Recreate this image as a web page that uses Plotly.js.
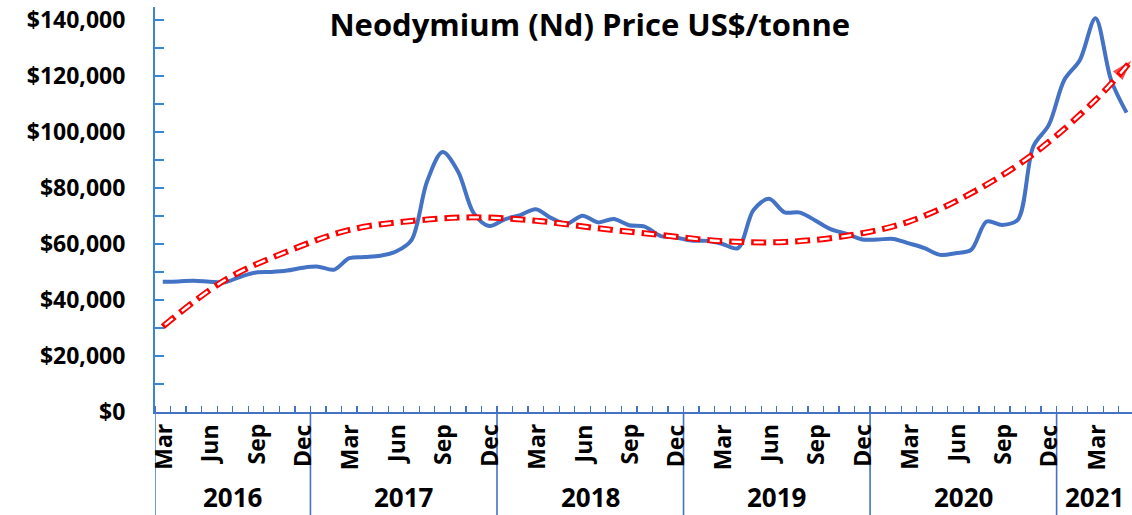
<!DOCTYPE html>
<html><head><meta charset="utf-8">
<script src="https://cdn.plot.ly/plotly-3.0.1.min.js"></script>
<style>html,body{margin:0;padding:0;background:#fff;}#chart{width:1132px;height:515px;}</style>
</head><body><div id="chart"></div>
<script>
// Monthly categories: Mar 2016 .. May 2021
const monthNames = ['Jan','Feb','Mar','Apr','May','Jun','Jul','Aug','Sep','Oct','Nov','Dec'];
const years = ['2016','2017','2018','2019','2020','2021'];
const startMonth = 2;   // Mar
const startYear = 2016;

// Neodymium price, US$/tonne (one value per month)
const price = [
  46500, 46600, 46900, 46500, 46300, 48300, 49800, 50000, 50500, 51500,
  51900, 50800, 54900, 55300, 55800, 57300, 61400, 82300, 92800, 85800,
  71000, 66400, 68800, 70300, 72400, 69200, 67200, 70100, 67700, 68900,
  66700, 66200, 62900, 62300, 61200, 61100, 60000, 58500, 72100, 76100,
  71300, 71200, 68300, 65200, 63600, 61600, 61600, 61800, 60200, 58500,
  56100, 56700, 57900, 68000, 66800, 68600, 94800, 102500, 118600, 125700,
  140600, 118600, 106900
];

// Polynomial trend line at a few months (month index, value)
const trendIdx = [0, 4, 8, 12, 16, 20, 24, 28, 32, 36, 40, 44, 48, 52, 56, 60, 62.3];
const trendVal = [30500, 47100, 57300, 65000, 68200, 69500, 68300, 65600, 63200, 61000,
                  60700, 62900, 68000, 78100, 92100, 111400, 125400];

const labelledMonths = ['Mar','Jun','Sep','Dec'];

const categories = price.map((_, i) => {
  const m = (startMonth + i) % 12;
  const y = startYear + Math.floor((startMonth + i) / 12);
  return {m: monthNames[m], y: String(y)};
});
const idx = price.map((_, i) => i);

const boundaries = [];
for (let i = 0; i <= price.length; i++) boundaries.push(i - 0.5);

const xMax = 62.35;
const blue = '#4472c4';
const axisBlue = '#3b86d0';
const FONT = 'Open Sans, Arial, sans-serif';

const shapes = [], annotations = [];
// month labels (top-aligned, rotated)
categories.forEach((c, i) => {
  if (labelledMonths.includes(c.m)) {
    annotations.push({x: i, y: -0.027, xref: 'x', yref: 'paper', text: c.m, showarrow: false,
      textangle: -90, xanchor: 'center', yanchor: 'top', borderpad: 0,
      font: {family: FONT, size: 23, color: '#000', weight: 700}});
  }
});
// year spans
years.forEach(yr => {
  const ids = idx.filter(i => categories[i].y === yr);
  const a = ids[0] - 0.5, b = Math.min(ids[ids.length - 1] + 0.5, xMax);
  annotations.push({x: (a + b) / 2, y: -0.21, xref: 'x', yref: 'paper', text: yr, showarrow: false,
    yanchor: 'middle', font: {family: FONT, size: 26, color: '#000', weight: 700}});
  shapes.push({type: 'line', xref: 'x', yref: 'paper', x0: a, x1: a, y0: 0, y1: -0.3,
    line: {color: a < 0 ? axisBlue : blue, width: 1.6}});
});

const arrowSizes = trendIdx.map((_, i) => i === trendIdx.length - 1 ? 21 : 0);

const traces = [
  {x: idx, y: price, type: 'scatter', mode: 'lines',
   line: {color: blue, width: 4, shape: 'spline', smoothing: 0.9}, hoverinfo: 'skip'},
  {x: trendIdx, y: trendVal, type: 'scatter', mode: 'lines+markers',
   line: {color: '#ff0000', width: 6, shape: 'spline', smoothing: 1, dash: '15px,7px'},
   marker: {symbol: 'arrow', angleref: 'previous', size: arrowSizes, color: '#ff0000', line: {width: 0}},
   hoverinfo: 'skip'},
  {x: trendIdx, y: trendVal, type: 'scatter', mode: 'lines',
   line: {color: '#ffffff', width: 2.4, shape: 'spline', smoothing: 1, dash: '0px,2.5px,10px,9.5px'},
   hoverinfo: 'skip'}
];

const layout = {
  width: 1132, height: 515,
  margin: {l: 155, r: 0, t: 7, b: 103},
  paper_bgcolor: '#fff', plot_bgcolor: '#fff',
  showlegend: false,
  title: {text: 'Neodymium (Nd) Price US$/tonne', xref: 'paper', x: 0.445, xanchor: 'center',
          yref: 'container', y: 0.952, yanchor: 'middle',
          font: {family: FONT, size: 31, color: '#000', weight: 700}},
  xaxis: {range: [-0.5, xMax], showgrid: false, zeroline: false,
          showline: true, linecolor: blue, linewidth: 2,
          showticklabels: false, ticks: '',
          minor: {tickmode: 'array', tickvals: boundaries, ticks: 'inside', ticklen: 6, tickcolor: blue, tickwidth: 1.3}},
  yaxis: {range: [0, 144600], showgrid: false, zeroline: false,
          showline: true, linecolor: axisBlue, linewidth: 2,
          tickmode: 'linear', tick0: 0, dtick: 20000, tickprefix: '$', tickformat: ',.0f',
          ticks: 'inside', ticklen: 9, tickcolor: axisBlue, tickwidth: 1.3, ticklabelstandoff: 23,
          tickfont: {family: FONT, size: 23, color: '#000', weight: 700},
          minor: {dtick: 10000, ticks: 'inside', ticklen: 9, tickcolor: axisBlue, tickwidth: 1.3}},
  shapes: shapes,
  annotations: annotations
};

Plotly.newPlot('chart', traces, layout, {displayModeBar: false, staticPlot: true});
</script>
</body></html>
